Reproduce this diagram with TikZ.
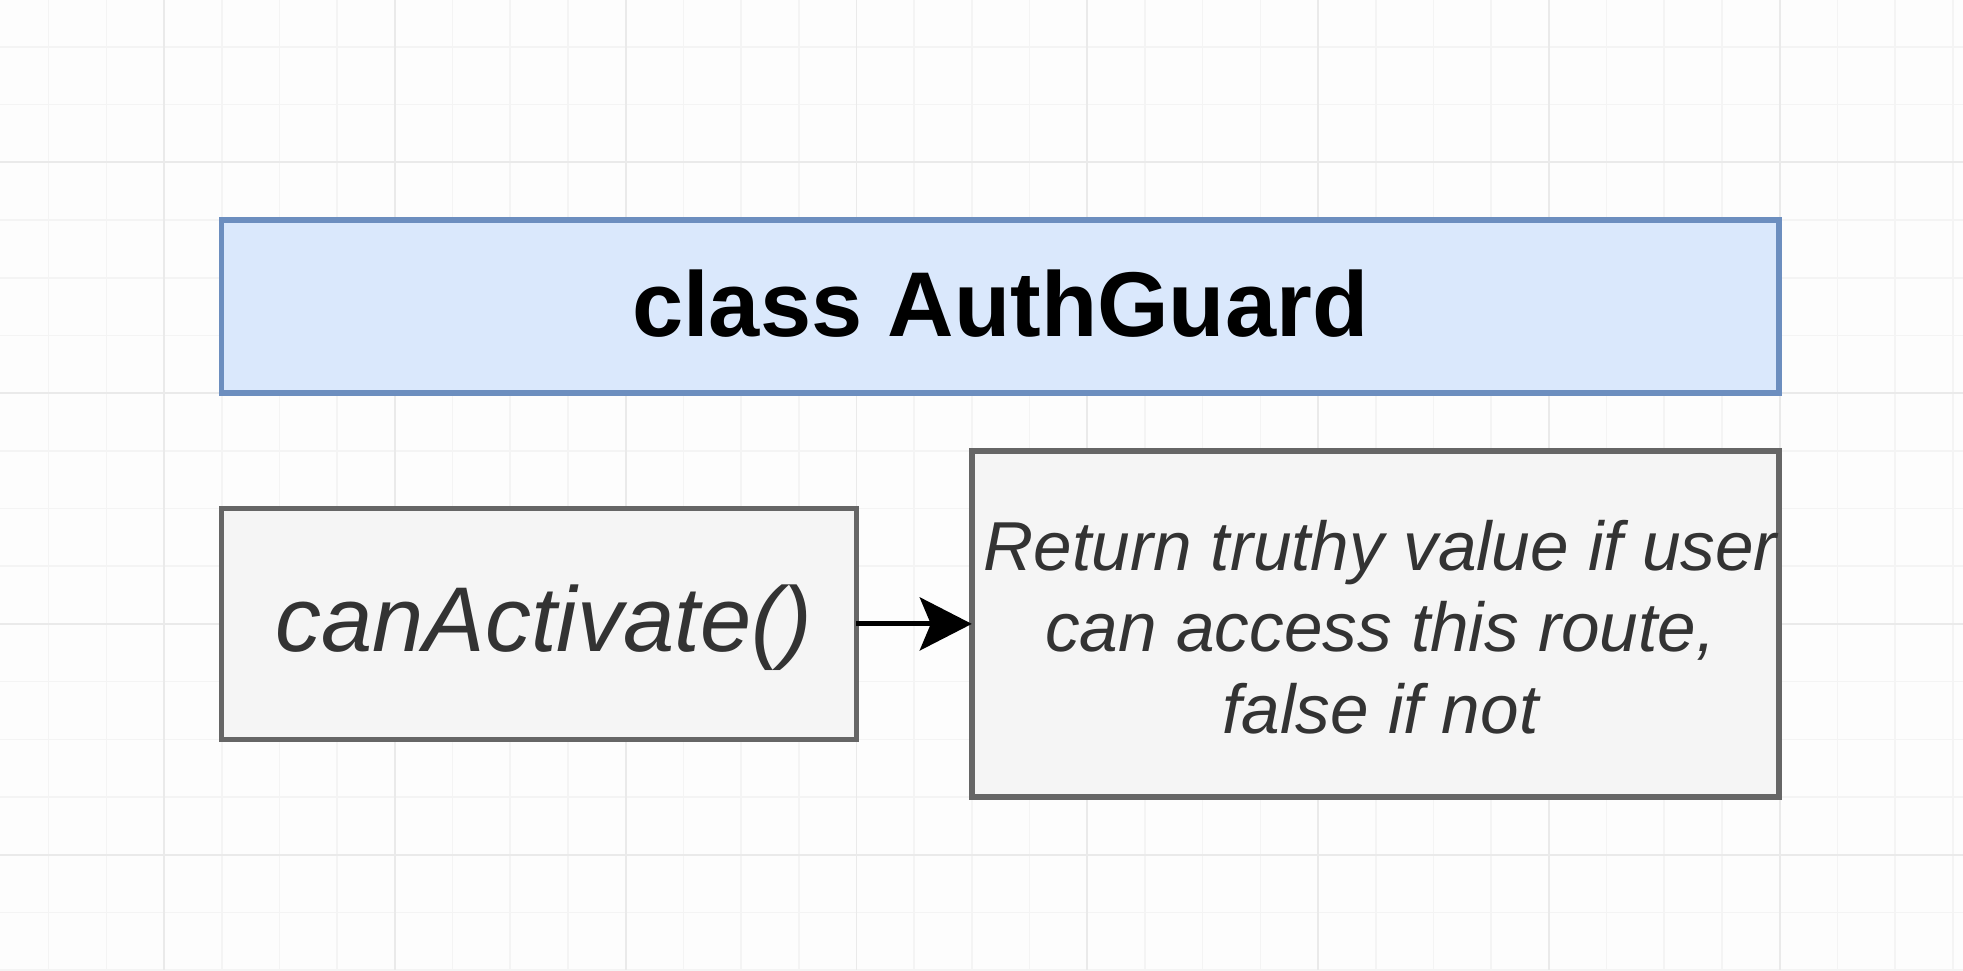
\documentclass[tikz,border=0pt]{standalone}
\usepackage{fontspec}
\setmainfont{Liberation Sans}
\usetikzlibrary{arrows.meta}
\definecolor{bgcol}{HTML}{FDFDFD}
\definecolor{minorgrid}{HTML}{F4F4F4}
\definecolor{majorgrid}{HTML}{EAEAEA}
\definecolor{bluefill}{HTML}{DAE8FC}
\definecolor{bluedraw}{HTML}{6C8EBF}
\definecolor{greyfill}{HTML}{F5F5F5}
\definecolor{greydraw}{HTML}{666666}
\definecolor{greytext}{HTML}{333333}
\begin{document}
\begin{tikzpicture}[x=1pt,y=-1pt,
  minorline/.style={draw=minorgrid,line width=1.6pt},
  majorline/.style={draw=majorgrid,line width=1.8pt},
  bluebox/.style={rectangle,draw=bluedraw,fill=bluefill,line width=5.5pt,outer sep=0pt,inner sep=0pt},
  greybox/.style={rectangle,draw=greydraw,fill=greyfill,line width=5.5pt,outer sep=0pt,inner sep=0pt,text=greytext},
  desctext/.style={align=center,inner sep=0pt,text=greytext,font=\fontsize{69.3}{81.5}\selectfont\itshape},
  arrowline/.style={draw=black,line width=5pt,-{Stealth[length=52pt,width=53pt,inset=11pt]}}
]
\useasboundingbox[fill=bgcol] (0,0) rectangle (1963,970);
% grid
\foreach \k in {-3,...,30} {
  \pgfmathsetmacro\xx{221.7+57.7*\k}
  \draw[minorline] (\xx,0) -- (\xx,970);
}
\foreach \k in {-3,...,13} {
  \pgfmathsetmacro\yy{220+57.7*\k}
  \draw[minorline] (0,\yy) -- (1963,\yy);
}
\foreach \k in {-1,3,...,27} {
  \pgfmathsetmacro\xx{221.7+57.7*\k}
  \draw[majorline] (\xx,0) -- (\xx,970);
}
\foreach \k in {-1,3,...,11} {
  \pgfmathsetmacro\yy{220+57.7*\k}
  \draw[majorline] (0,\yy) -- (1963,\yy);
}
% boxes
\node[bluebox,minimum width=1557.3pt,minimum height=173.1pt,
      font=\fontsize{92}{100}\selectfont\bfseries,text=black,
      text height=59pt,text depth=0pt] (title) at (1000.35,306.55) {class AuthGuard};
\node[greybox,minimum width=634.7pt,minimum height=230.8pt,
      font=\fontsize{92}{100}\selectfont\itshape,
      text height=55.6pt,text depth=0pt] (can) at (539.05,623.9) {\hspace*{10pt}canActivate()};
\node[greybox,minimum width=807.2pt,minimum height=346.2pt] (desc) at (1375.4,623.9) {};
\node[desctext] (desctxt) at ([xshift=5pt,yshift=-3pt]desc.center)
      {Return truthy value if user\\can access this route,\\false if not};
\draw[arrowline] (can.east) -- (desc.west);
\end{tikzpicture}
\end{document}
